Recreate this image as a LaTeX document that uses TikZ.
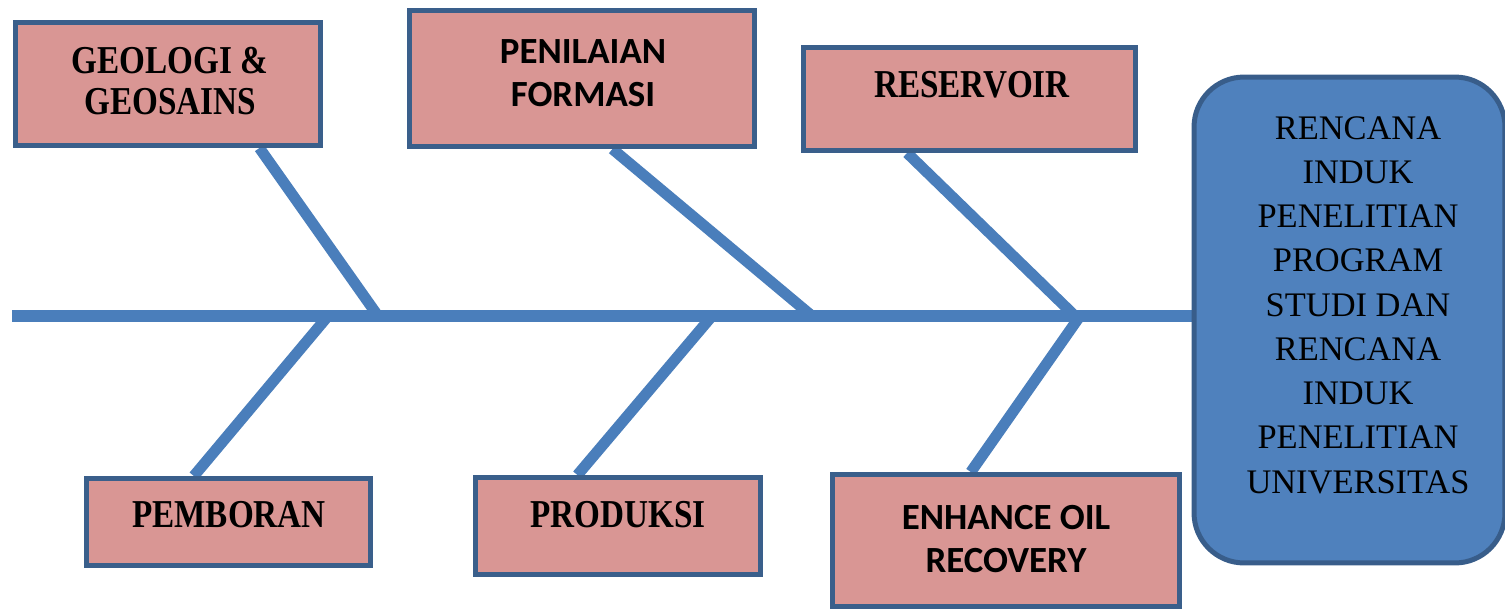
\documentclass[tikz,border=0pt]{standalone}
\usepackage{fontspec}
\setmainfont{Liberation Serif}
\newfontfamily\headserif[FakeStretch=0.84]{Liberation Serif}
\newfontfamily\headsans{Carlito}
\usetikzlibrary{calc,backgrounds}
\definecolor{boxfill}{HTML}{D99694}
\definecolor{boxline}{HTML}{3A5F8B}
\definecolor{bonecol}{HTML}{4A7EBB}
\definecolor{goalfill}{HTML}{4F81BD}
\definecolor{goalline}{HTML}{385D8A}
\begin{document}
\begin{tikzpicture}[x=0.02cm,y=-0.02cm,
  catbox/.style={draw=boxline,fill=boxfill,line width=0.1cm,inner sep=0pt},
  goalbox/.style={draw=goalline,fill=goalfill,line width=0.1cm,rounded corners=1cm,inner sep=0pt},
  bone/.style={draw=bonecol,line width=0.22cm},
  spine/.style={draw=bonecol,line width=0.24cm},
  sertext/.style={inner sep=0pt,align=center,font=\headserif\bfseries\fontsize{22.5}{23.8}\selectfont},
  santext/.style={inner sep=0pt,align=center,font=\headsans\bfseries\fontsize{21}{24.4}\selectfont},
  goaltext/.style={inner sep=0pt,align=center,font=\fontsize{19.6}{25.2}\selectfont}]
\useasboundingbox (0,0) rectangle (1505,609);

% category boxes and the goal box
\node[catbox,minimum width=6.10cm,minimum height=2.46cm] (geo) at (168,84) {};
\node[catbox,minimum width=6.90cm,minimum height=2.72cm] (pen) at (582,78.5) {};
\node[catbox,minimum width=6.64cm,minimum height=2.06cm] (res) at (969.5,99) {};
\node[catbox,minimum width=5.68cm,minimum height=1.74cm] (pem) at (228.5,522) {};
\node[catbox,minimum width=5.70cm,minimum height=1.94cm] (pro) at (618,526) {};
\node[catbox,minimum width=6.94cm,minimum height=2.65cm] (enh) at (1006,540.75) {};
\node[goalbox,minimum width=6.22cm,minimum height=9.72cm] (goal) at (1349.5,320) {};

% spine and joints
\coordinate (tail) at (12,316);
\coordinate (j1) at (378,316);
\coordinate (j2) at (812,316);
\coordinate (j3) at (1075,316);
\coordinate (j4) at (328,316);
\coordinate (j5) at (712,316);
\coordinate (j6) at (1080,316);

% bones sit behind the boxes
\begin{pgfonlayer}{background}
\draw[spine] (tail) -- (tail -| goal.west);
\draw[bone] ($(geo.south west)!0.795!(geo.south east)$) -- (j1);
\draw[bone] ($(pen.south west)!0.587!(pen.south east)$) -- (j2);
\draw[bone] ($(res.south west)!0.315!(res.south east)$) -- (j3);
\draw[bone] ($(pem.north west)!0.38!(pem.north east)$) -- (j4);
\draw[bone] ($(pro.north west)!0.36!(pro.north east)$) -- (j5);
\draw[bone] ($(enh.north west)!0.40!(enh.north east)$) -- (j6);
\end{pgfonlayer}

% labels
\node[sertext] (geo-t) at (170,81) {GEOLOGI \&\\GEOSAINS};
\node[santext] (pen-t) at (583,73.5) {PENILAIAN\\FORMASI};
\node[sertext] (res-t) at (972,85) {RESERVOIR};
\node[sertext] (pem-t) at (229,515) {PEMBORAN};
\node[sertext] (pro-t) at (618,515) {PRODUKSI};
\node[santext] (enh-t) at (1006,539) {ENHANCE OIL\\RECOVERY};
\node[goaltext] (goal-t) at (1358,305) {RENCANA\\INDUK\\PENELITIAN\\PROGRAM\\STUDI DAN\\RENCANA\\INDUK\\PENELITIAN\\UNIVERSITAS};
\end{tikzpicture}
\end{document}
